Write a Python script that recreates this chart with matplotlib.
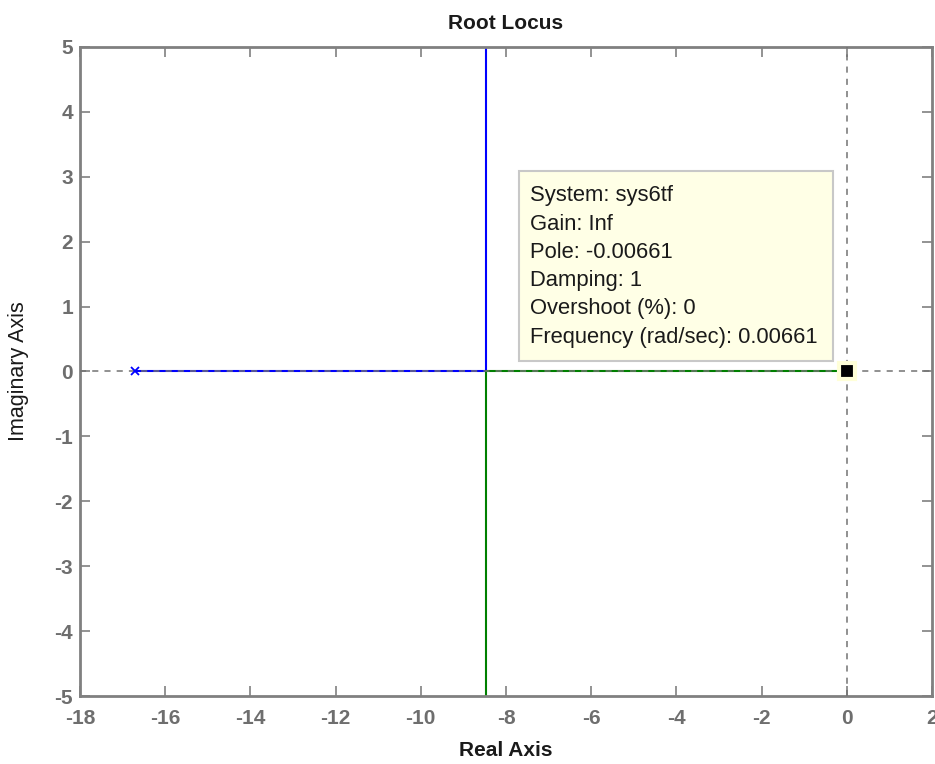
import matplotlib
matplotlib.use("Agg")
import matplotlib.pyplot as plt
from matplotlib.patches import Rectangle
import numpy as np

plt.rcParams['font.family'] = ['Liberation Sans', 'DejaVu Sans']

# open-loop poles and branch breakaway point on the real axis
poles = [-16.72, 0.0]
breakaway = -8.47
# datatip on the zero near the origin
tip_x, tip_y = 0.0, 0.0
tip_lines = ["System: sys6tf", "Gain: Inf", "Pole: -0.00661", "Damping: 1",
             "Overshoot (%): 0", "Frequency (rad/sec): 0.00661"]

xticks = np.arange(-18, 3, 2)
yticks = np.arange(-5, 6, 1)

fig = plt.figure(figsize=(9.35, 7.64), dpi=100)
ax = fig.add_axes([80/935, 68/764, 852/935, 649/764])

# branch 1: from the left pole to breakaway, then up
ax.plot([poles[0], breakaway, breakaway], [0, 0, 6], color='#0000ff', lw=1.5, zorder=2)
# branch 2: from the pole at the origin to breakaway, then down
ax.plot([poles[1], breakaway, breakaway], [0, 0, -6], color='#008000', lw=1.5, zorder=2)
ax.plot([poles[0]], [0], marker='x', color='#0000ff', ms=6, mew=1.3, ls='none', zorder=4)

# dashed reference axes through the origin
ax.axhline(0, color='0.45', lw=1.1, ls=(0, (4, 4)), zorder=3)
ax.axvline(0, color='0.45', lw=1.1, ls=(0, (4, 4)), zorder=3)

ax.plot([tip_x], [tip_y], marker='s', color='black', ms=12, mec='#ffffd8', mew=3,
        ls='none', zorder=5)

ax.set_xlim(-18, 2)
ax.set_ylim(-5, 5)
ax.set_xticks(xticks)
ax.set_yticks(yticks)
ax.set_xticklabels([str(t) for t in xticks])
ax.set_yticklabels([str(t) for t in yticks])
ax.tick_params(direction='in', length=7, width=1.2, color='#808080', top=True, right=True,
               labelcolor='#6e6e6e', labelsize=15)
ax.tick_params(axis='x', pad=9)
ax.tick_params(axis='y', pad=5)
for lbl in ax.get_xticklabels() + ax.get_yticklabels():
    lbl.set_fontweight('bold')
for s in ax.spines.values():
    s.set_color('#808080')
    s.set_linewidth(2)

ax.set_title('Root Locus', fontsize=15, fontweight='bold', color='#1a1a1a', pad=13)
ax.set_xlabel('Real Axis', fontsize=15, fontweight='bold', color='#1a1a1a', labelpad=10)
ax.set_ylabel('Imaginary Axis', fontsize=15.5, color='#1a1a1a', labelpad=18)

# datatip box
bx0, bx1 = (519-80)/852, (833-80)/852
by0, by1 = (696-361)/649, (696-171)/649
ax.add_patch(Rectangle((bx0, by0), bx1-bx0, by1-by0, transform=ax.transAxes,
                       facecolor='#ffffe6', edgecolor='#c8c8c8', lw=1.5, zorder=6))
line_px = [196, 225, 253, 281, 309, 338]
for txt, ypx in zip(tip_lines, line_px):
    ax.text((530-80)/852, (696-ypx)/649, txt, transform=ax.transAxes, fontsize=15.8,
            color='#1a1a1a', ha='left', va='center', zorder=7)

fig.savefig('out.png', dpi=100, facecolor='white')
